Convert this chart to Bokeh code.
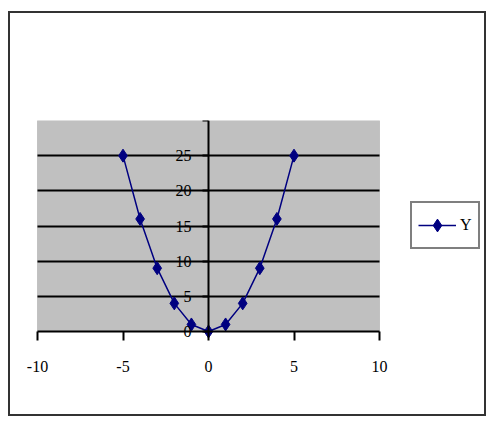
from bokeh.plotting import figure
from bokeh.models import FixedTicker, Legend, LegendItem, Range1d, LinearAxis, BoxAnnotation
from bokeh.embed import file_html
from bokeh.resources import INLINE

x_vals = [-5, -4, -3, -2, -1, 0, 1, 2, 3, 4, 5]
y_vals = [25, 16, 9, 4, 1, 0, 1, 4, 9, 16, 25]
x_ticks = [-10, -5, 0, 5, 10]
x_tick_labels = {-10: "-10", -5: "-5", 0: "0", 5: "5", 10: "10"}
y_ticks = [0, 5, 10, 15, 20, 25, 30]
grid_ticks = [5, 10, 15, 20, 25]
x_min, x_max = -10, 10
y_min, y_max = 0, 30
series_name = "Y"

FONT = "Liberation Serif"

# the frame spans the whole chart so the legend, the "-10" label and the
# bottom marker are not clipped; the grey plot area is drawn as a box
p = figure(width=478, height=405, output_backend="svg", toolbar_location=None,
           x_range=Range1d(-11.696, 16.257), y_range=Range1d(-12.085, 30),
           x_axis_location=None, y_axis_location=None,
           min_border_left=0, min_border_right=0, min_border_top=109, min_border_bottom=0)
p.styles = {"margin-left": "8px", "margin-top": "11px",
            "outline": "2px solid #333333", "outline-offset": "-2px"}
p.background_fill_color = None
p.border_fill_color = None
p.outline_line_color = None

area = BoxAnnotation(left=x_min, right=x_max, bottom=y_min, top=y_max,
                     fill_color="#C0C0C0", fill_alpha=1,
                     line_color="#808080", line_width=1, level="image")
p.add_layout(area)

xa = LinearAxis(ticker=FixedTicker(ticks=x_ticks), fixed_location=0, bounds=(x_min, x_max))
xa.major_label_overrides = x_tick_labels
xa.axis_line_color = "black"
xa.axis_line_width = 2
xa.major_tick_line_color = "black"
xa.major_tick_line_width = 2
xa.major_tick_out = 9
xa.major_tick_in = 0
xa.minor_tick_line_color = None
xa.major_label_standoff = 20
xa.major_label_text_font = FONT
xa.major_label_text_font_size = "16px"
xa.major_label_text_color = "black"
p.add_layout(xa, "below")

ya = LinearAxis(ticker=FixedTicker(ticks=y_ticks), fixed_location=0, bounds=(y_min, y_max))
ya.axis_line_color = "black"
ya.axis_line_width = 2
ya.major_tick_line_color = "black"
ya.major_tick_line_width = 2
ya.major_tick_out = 6
ya.major_tick_in = 0
ya.minor_tick_line_color = None
ya.major_label_standoff = 11
ya.major_label_text_font = FONT
ya.major_label_text_font_size = "16px"
ya.major_label_text_color = "black"
ya.major_label_overrides = {30: ""}
p.add_layout(ya, "left")

p.xgrid.visible = False
p.ygrid.ticker = FixedTicker(ticks=grid_ticks)
p.ygrid.grid_line_color = "black"
p.ygrid.grid_line_width = 2
p.ygrid.cross_bounds = (x_min, x_max)

ln = p.line(x_vals, y_vals, line_color="#000080", line_width=1.5)
sc = p.scatter(x_vals, y_vals, marker="diamond", size=13,
               fill_color="#000080", line_color="#000080")

legend = Legend(items=[LegendItem(label=series_name, renderers=[ln, sc])],
                location=(402, 167))
legend.border_line_color = "black"
legend.border_line_width = 2
legend.background_fill_color = "white"
legend.background_fill_alpha = 1
legend.padding = 6
legend.spacing = 0
legend.margin = 0
legend.glyph_width = 38
legend.glyph_height = 32
legend.label_standoff = 4
legend.label_width = 8
legend.label_text_font = FONT
legend.label_text_font_size = "16px"
legend.label_text_color = "black"
p.add_layout(legend, "center")

open("out.html", "w").write(file_html(p, INLINE))
